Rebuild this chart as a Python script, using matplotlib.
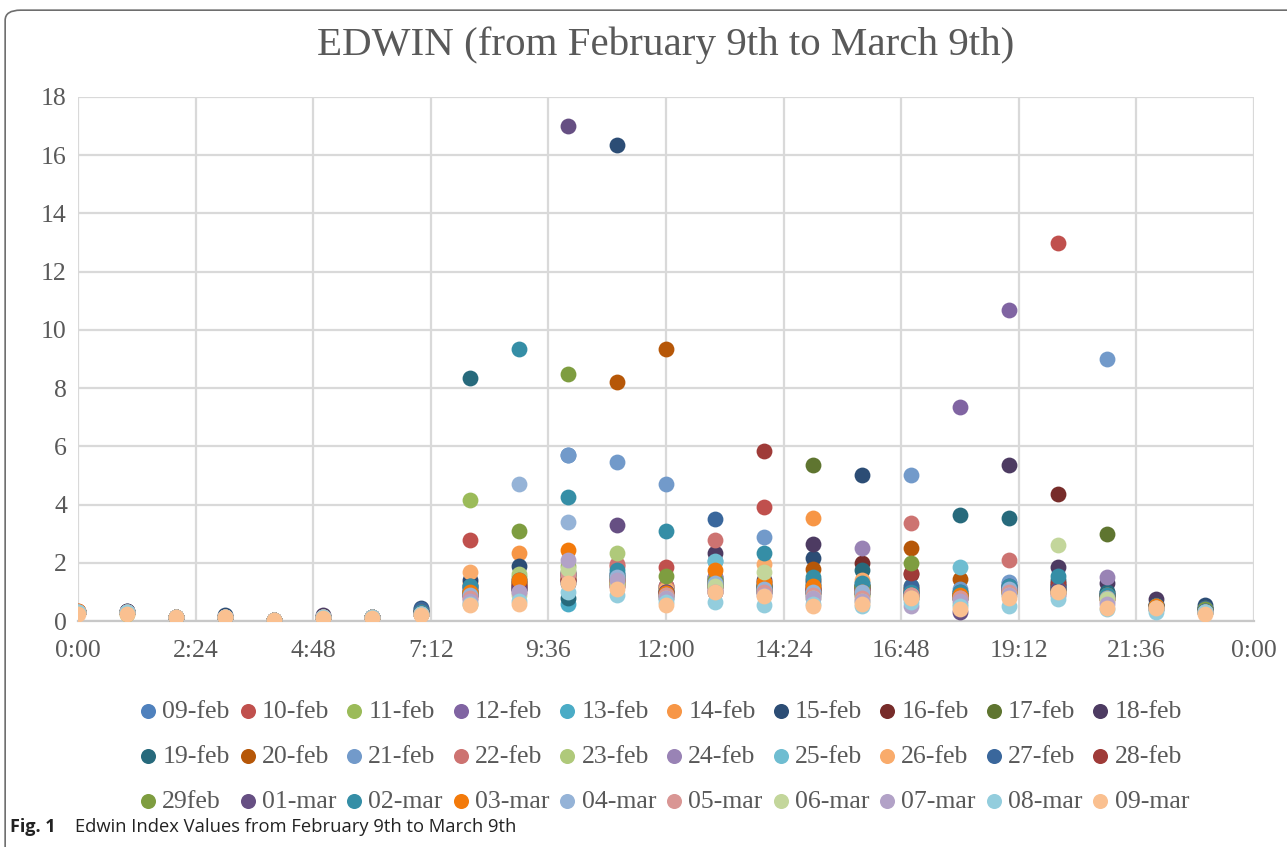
import matplotlib
matplotlib.use("Agg")
import matplotlib.pyplot as plt
from matplotlib.patches import FancyBboxPatch

# hours of the day (one reading per hour)
hours = list(range(24))

dates = ["09-feb", "10-feb", "11-feb", "12-feb", "13-feb", "14-feb", "15-feb", "16-feb", "17-feb", "18-feb",
         "19-feb", "20-feb", "21-feb", "22-feb", "23-feb", "24-feb", "25-feb", "26-feb", "27-feb", "28-feb",
         "29feb", "01-mar", "02-mar", "03-mar", "04-mar", "05-mar", "06-mar", "07-mar", "08-mar", "09-mar"]

# Excel 2007 office palette, 30 series
colors = ["#4F81BD", "#C0504D", "#9BBB59", "#8064A2", "#4BACC6", "#F79646",
          "#2C4D75", "#772C2A", "#5F7530", "#4D3B62", "#276A7C", "#B65708",
          "#729ACA", "#CD7371", "#AFC97A", "#9983B5", "#6FBDD1", "#F9AB6B",
          "#3A679C", "#9F3B38", "#7E9D40", "#664F83", "#358EA6", "#F37A0A",
          "#95B3D7", "#D99694", "#C3D69B", "#B2A2C7", "#93CDDD", "#FAC090"]

feb09 = [0.30, 0.30, 0.15, 0.15, 0.05, 0.15, 0.15, 0.30, 1.2, 1.3, 5.7, 1.6, 1.0, 1.4, 1.3, 1.1, 1.2, 1.0, 0.9, 1.3, 1.2, 0.9, 0.5, 0.40]
feb10 = [0.35, 0.30, 0.15, 0.15, 0.05, 0.15, 0.15, 0.25, 2.8, 1.2, 1.6, 1.9, 1.85, 1.2, 3.9, 1.2, 1.0, 1.1, 0.9, 1.2, 13.0, 0.9, 0.5, 0.35]
feb11 = [0.30, 0.25, 0.15, 0.15, 0.05, 0.15, 0.15, 0.25, 4.15, 1.5, 1.9, 1.4, 1.0, 1.2, 1.1, 1.0, 0.9, 0.9, 0.8, 1.0, 1.1, 0.8, 0.5, 0.35]
feb12 = [0.30, 0.30, 0.15, 0.15, 0.05, 0.15, 0.15, 0.30, 1.0, 1.2, 1.7, 1.5, 0.9, 1.1, 1.0, 1.0, 1.1, 0.8, 7.35, 10.7, 1.2, 0.9, 0.5, 0.35]
feb13 = [0.30, 0.30, 0.15, 0.15, 0.05, 0.15, 0.15, 0.25, 0.9, 1.1, 0.6, 1.3, 0.8, 2.05, 1.2, 0.9, 1.0, 0.8, 0.9, 1.0, 1.0, 0.8, 0.4, 0.30]
feb14 = [0.30, 0.30, 0.15, 0.15, 0.05, 0.15, 0.15, 0.30, 1.3, 2.35, 1.6, 1.4, 1.0, 1.3, 1.2, 3.55, 1.2, 0.9, 1.0, 1.1, 1.1, 0.8, 0.5, 0.35]
feb15 = [0.30, 0.35, 0.15, 0.20, 0.05, 0.15, 0.15, 0.45, 1.4, 1.9, 1.3, 16.35, 1.1, 1.5, 1.2, 2.15, 5.0, 1.1, 0.9, 1.2, 1.3, 1.0, 0.6, 0.55]
feb16 = [0.30, 0.30, 0.15, 0.15, 0.05, 0.15, 0.15, 0.30, 1.1, 1.3, 1.4, 1.2, 1.0, 1.0, 1.2, 1.1, 2.0, 1.6, 0.8, 1.1, 4.35, 0.9, 0.5, 0.40]
feb17 = [0.30, 0.30, 0.15, 0.15, 0.05, 0.15, 0.15, 0.30, 1.0, 1.2, 1.5, 1.3, 0.9, 1.2, 1.1, 5.35, 1.2, 1.0, 0.9, 1.1, 1.2, 3.0, 0.5, 0.45]
feb18 = [0.30, 0.35, 0.15, 0.15, 0.05, 0.20, 0.15, 0.30, 0.9, 1.1, 1.4, 1.6, 1.2, 2.35, 1.4, 2.65, 1.1, 0.9, 0.8, 5.35, 1.85, 1.3, 0.75, 0.40]
feb19 = [0.30, 0.30, 0.15, 0.15, 0.05, 0.15, 0.15, 0.35, 8.35, 1.3, 0.8, 1.4, 1.1, 1.3, 1.0, 1.3, 1.75, 1.1, 3.65, 3.55, 1.4, 1.0, 0.55, 0.40]
feb20 = [0.30, 0.30, 0.15, 0.15, 0.05, 0.15, 0.15, 0.30, 1.0, 1.3, 1.5, 8.2, 9.35, 1.4, 1.2, 1.8, 1.2, 2.5, 1.45, 1.0, 1.1, 0.8, 0.5, 0.35]
feb21 = [0.30, 0.30, 0.15, 0.15, 0.05, 0.15, 0.15, 0.30, 1.1, 1.4, 5.7, 5.45, 4.7, 1.4, 2.9, 1.2, 1.3, 5.0, 1.1, 1.35, 1.2, 9.0, 0.5, 0.40]
feb22 = [0.30, 0.30, 0.15, 0.15, 0.05, 0.15, 0.15, 0.25, 0.9, 1.2, 1.5, 1.95, 1.2, 2.8, 1.3, 1.1, 1.0, 3.35, 0.9, 2.1, 1.1, 0.8, 0.5, 0.35]
feb23 = [0.30, 0.30, 0.15, 0.15, 0.05, 0.15, 0.15, 0.25, 1.0, 1.6, 1.7, 2.35, 1.1, 1.2, 1.1, 1.0, 0.9, 1.2, 0.8, 1.0, 1.0, 0.8, 0.4, 0.30]
feb24 = [0.30, 0.30, 0.15, 0.15, 0.05, 0.15, 0.15, 0.25, 0.8, 1.1, 1.6, 1.5, 0.9, 1.5, 1.2, 1.0, 2.5, 0.9, 0.9, 1.2, 1.1, 1.5, 0.5, 0.35]
feb25 = [0.30, 0.30, 0.15, 0.15, 0.05, 0.15, 0.15, 0.25, 1.0, 1.2, 1.5, 1.6, 1.0, 2.05, 1.3, 1.2, 1.0, 1.0, 1.85, 1.0, 1.1, 0.9, 0.45, 0.30]
feb26 = [0.30, 0.30, 0.15, 0.15, 0.05, 0.15, 0.15, 0.30, 1.7, 1.3, 1.5, 1.4, 1.1, 1.3, 1.95, 1.4, 1.4, 1.1, 0.9, 1.1, 1.0, 0.8, 0.5, 0.35]
feb27 = [0.30, 0.30, 0.15, 0.15, 0.05, 0.15, 0.15, 0.40, 1.2, 1.4, 1.6, 1.5, 1.0, 3.5, 1.2, 1.4, 1.2, 1.2, 1.0, 1.2, 1.2, 0.9, 0.5, 0.45]
feb28 = [0.30, 0.30, 0.15, 0.15, 0.05, 0.15, 0.15, 0.30, 1.0, 1.2, 1.4, 1.4, 1.0, 1.3, 5.85, 1.1, 1.1, 1.65, 0.9, 1.1, 1.3, 0.9, 0.5, 0.35]
feb29 = [0.30, 0.30, 0.15, 0.15, 0.05, 0.15, 0.15, 0.30, 1.0, 3.1, 8.5, 1.5, 1.55, 1.4, 1.2, 1.0, 1.2, 2.0, 0.9, 1.0, 1.1, 0.9, 0.5, 0.40]
mar01 = [0.30, 0.30, 0.15, 0.15, 0.05, 0.15, 0.15, 0.30, 0.9, 1.1, 17.0, 3.3, 1.0, 1.2, 1.1, 1.0, 0.95, 1.0, 0.3, 1.1, 1.1, 0.8, 0.5, 0.35]
mar02 = [0.30, 0.30, 0.15, 0.15, 0.05, 0.15, 0.15, 0.30, 1.2, 9.35, 4.25, 1.75, 3.1, 1.3, 2.35, 1.5, 1.3, 1.0, 1.0, 1.2, 1.55, 0.9, 0.5, 0.35]
mar03 = [0.35, 0.30, 0.15, 0.15, 0.05, 0.15, 0.15, 0.25, 1.0, 1.4, 2.45, 1.3, 0.95, 1.75, 1.35, 1.2, 1.0, 0.9, 0.9, 1.0, 1.0, 0.8, 0.5, 0.30]
mar04 = [0.30, 0.30, 0.15, 0.15, 0.05, 0.15, 0.15, 0.25, 0.9, 4.7, 3.4, 1.5, 0.9, 1.3, 1.1, 1.0, 1.0, 0.9, 0.8, 1.1, 1.0, 0.8, 0.45, 0.30]
mar05 = [0.30, 0.30, 0.15, 0.15, 0.05, 0.15, 0.15, 0.25, 0.8, 1.0, 1.6, 1.2, 0.9, 1.1, 1.0, 0.9, 0.8, 0.9, 0.8, 1.0, 0.9, 0.7, 0.45, 0.30]
mar06 = [0.30, 0.30, 0.15, 0.15, 0.05, 0.15, 0.15, 0.25, 0.6, 0.9, 1.8, 1.3, 0.8, 1.2, 1.7, 0.8, 0.7, 0.8, 0.6, 0.9, 2.6, 0.75, 0.45, 0.30]
mar07 = [0.30, 0.30, 0.15, 0.15, 0.05, 0.15, 0.15, 0.25, 0.7, 1.0, 2.1, 1.4, 0.8, 1.0, 0.9, 0.8, 0.7, 0.5, 0.7, 0.9, 0.9, 0.6, 0.4, 0.30]
mar08 = [0.30, 0.30, 0.15, 0.15, 0.05, 0.15, 0.15, 0.25, 0.6, 0.7, 1.0, 0.9, 0.65, 0.65, 0.55, 0.6, 0.5, 0.65, 0.5, 0.5, 0.75, 0.4, 0.3, 0.30]
mar09 = [0.25, 0.25, 0.15, 0.15, 0.05, 0.10, 0.12, 0.20, 0.55, 0.6, 1.3, 1.1, 0.55, 1.0, 0.85, 0.5, 0.6, 0.8, 0.4, 0.8, 1.0, 0.45, 0.45, 0.25]

series = [feb09, feb10, feb11, feb12, feb13, feb14, feb15, feb16, feb17, feb18,
          feb19, feb20, feb21, feb22, feb23, feb24, feb25, feb26, feb27, feb28,
          feb29, mar01, mar02, mar03, mar04, mar05, mar06, mar07, mar08, mar09]

xtick_labels = ["0:00", "2:24", "4:48", "7:12", "9:36", "12:00",
                "14:24", "16:48", "19:12", "21:36", "0:00"]

plt.rcParams["font.family"] = ["Liberation Serif", "DejaVu Serif"]
TXT = "#595959"
GRID = "#D9D9D9"

fig = plt.figure(figsize=(12.87, 8.47), dpi=100)
ax = fig.add_axes([0.0606, 0.2668, 0.9138, 0.6187])

handles = []
for name, vals, col in zip(dates, series, colors):
    h = ax.scatter(hours, vals, s=130, color=col, label=name, zorder=3,
                   linewidths=0)
    handles.append(h)

ax.set_xlim(0, 24)
ax.set_ylim(0, 18)
ax.set_xticks([2.4 * i for i in range(11)])
ax.set_xticklabels(xtick_labels)
ax.set_yticks(range(0, 19, 2))
ax.tick_params(axis="both", length=0, labelsize=18.5, colors=TXT)
ax.tick_params(axis="x", pad=14)
ax.tick_params(axis="y", pad=8)
ax.grid(True, color=GRID, linewidth=1.6, zorder=0)
for side in ("top", "right", "left"):
    ax.spines[side].set_visible(False)
ax.spines["bottom"].set_color("#C8C8C8")
ax.spines["bottom"].set_linewidth(1.6)

ax.set_title("EDWIN (from February 9th to March 9th)", fontsize=29.5,
             color=TXT, pad=30)

# Excel fills the legend row by row; matplotlib fills column by column
order = [10 * r + c for c in range(10) for r in range(3)]
leg = fig.legend([handles[i] for i in order], [dates[i] for i in order],
                 loc="center", bbox_to_anchor=(0.515, 0.107), ncol=10,
                 frameon=False, fontsize=18.5, handletextpad=0.1,
                 handlelength=0.9, columnspacing=0.25, labelspacing=0.86,
                 markerscale=0.95, scatterpoints=1)
for t in leg.get_texts():
    t.set_color(TXT)

# rounded chart border
border = FancyBboxPatch((0.004, -0.2), 1.2, 1.188,
                        boxstyle="round,pad=0,rounding_size=0.012",
                        transform=fig.transFigure, fill=False,
                        edgecolor="#6E6E6E", linewidth=1.2, zorder=0)
fig.patches.append(border)

fig.text(0.008, 0.018, "Fig. 1", fontsize=13, fontweight="bold",
         family=["Open Sans", "DejaVu Sans"], color="#222222")
fig.text(0.058, 0.018, "Edwin Index Values from February 9th to March 9th",
         fontsize=13.2, family=["Open Sans", "DejaVu Sans"], color="#222222")

fig.savefig("out.png", dpi=100)
